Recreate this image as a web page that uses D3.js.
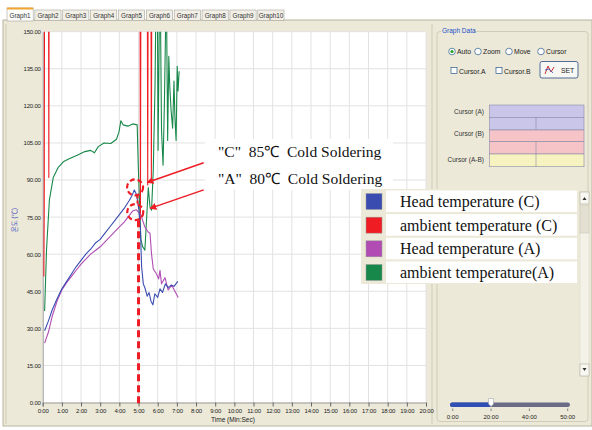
<!DOCTYPE html>
<html>
<head>
<meta charset="utf-8">
<script src="https://cdn.jsdelivr.net/npm/d3@7"></script>
<style>
  body { margin: 0; background: #fff; }
  svg { display: block; font-family: "Liberation Sans", Arial, sans-serif; }
</style>
</head>
<body>
<svg id="chart" width="592" height="430"></svg>
<script>
// ---- data (time in minutes, temperature in degC) ----
const tabNames = ['Graph1', 'Graph2', 'Graph3', 'Graph4', 'Graph5', 'Graph6', 'Graph7', 'Graph8', 'Graph9', 'Graph10'];
const xTickMinutes = d3.range(0, 21);
const yTicks = [0, 15, 30, 45, 60, 75, 90, 105, 120, 135, 150];

const headC = [[0.1, 29], [0.3, 33], [0.5, 37.5], [0.75, 42], [1.0, 46], [1.25, 49], [1.5, 52], [1.75, 55], [2.0, 57.5],
  [2.25, 60], [2.5, 62], [2.75, 64.5], [3.0, 66], [3.25, 68.5], [3.5, 71], [3.75, 73.5], [4.0, 76], [4.25, 78.5],
  [4.5, 81.5], [4.65, 83.5], [4.78, 86], [4.9, 84], [5.02, 78], [5.1, 70], [5.16, 55], [5.25, 48], [5.35, 46],
  [5.45, 43], [5.55, 44.5], [5.65, 41], [5.75, 39.5], [5.85, 44], [6.0, 42.5], [6.12, 46], [6.25, 44.5],
  [6.4, 48], [6.55, 46.5], [6.7, 47.5], [6.85, 47], [7.05, 49]];

const ambientC = [[0.06, 51], [0.08, 79], [0.1, 200], [0.3, 200], [0.32, 91], [0.34, 200], [5.07, 200], [5.1, 74],
  [5.13, 200], [5.45, 200], [5.48, 88], [5.51, 200], [5.64, 200], [5.67, 89], [5.7, 200], [7.1, 200]];

const headA = [[0.1, 24], [0.3, 28.5], [0.5, 35], [0.75, 41], [1.0, 45.5], [1.25, 48.5], [1.5, 51], [1.75, 53.5],
  [2.0, 56], [2.25, 58], [2.5, 60], [2.75, 61.5], [3.0, 63], [3.25, 65], [3.5, 67], [3.75, 69], [4.0, 71],
  [4.25, 73], [4.5, 75.5], [4.7, 77.5], [4.88, 78], [5.05, 76.5], [5.16, 75], [5.33, 71], [5.5, 69], [5.6, 68.5],
  [5.68, 60], [5.77, 54], [5.94, 52], [6.05, 50], [6.12, 53.5], [6.2, 48], [6.38, 50.5], [6.55, 45.5],
  [6.73, 47.5], [6.9, 45], [7.07, 42.5]];

const ambientA = [[0.1, 37], [0.2, 62], [0.35, 82], [0.55, 91], [0.8, 95], [1.1, 97.5], [1.35, 98.5], [1.5, 99],
  [1.8, 100], [2.2, 101.5], [2.5, 102], [2.7, 101], [2.9, 103.5], [3.2, 105], [3.55, 104.8], [3.85, 106.5],
  [3.98, 109.5], [4.08, 114], [4.2, 112.3], [4.45, 111.8], [4.7, 112.7], [4.93, 112.3], [4.99, 95], [5.05, 82],
  [5.12, 66], [5.22, 63], [5.33, 61.6], [5.42, 74], [5.51, 87], [5.6, 79], [5.68, 77.8], [5.77, 94], [5.86, 128],
  [5.92, 170], [5.98, 170], [6.02, 102], [6.08, 150], [6.13, 170], [6.2, 110], [6.28, 96], [6.35, 121],
  [6.45, 170], [6.52, 106], [6.58, 140], [6.63, 128], [6.7, 118], [6.78, 111], [6.85, 130], [6.9, 115],
  [6.96, 106], [7.02, 136], [7.06, 126], [7.12, 134]];

const seriesNames = ['Head temperature (C)', 'ambient temperature (C)', 'Head temperature (A)', 'ambient temperature(A)'];
const seriesColors = ['#3a4cb0', '#f01c24', '#b04cb4', '#17884a'];
const seriesData = [headC, ambientC, headA, ambientA];

const noteTexts = ['"C"  85\u2103  Cold Soldering', '"A"  80\u2103  Cold Soldering'];
const noteCircles = [[4.82, 87], [4.83, 77]];
const noteArrowFrom = [[8.4, 97], [8.4, 86]];
const noteArrowTo = [[5.45, 89], [5.6, 78.5]];
const markTime = 5.0;

const radioNames = ['Auto', 'Zoom', 'Move', 'Cursor'];
const checkNames = ['Cursor.A', 'Cursor.B'];
const cursorRows = ['Cursor (A)', 'Cursor (B)', 'Cursor (A-B)'];
const sliderLabels = ['0:00', '20:00', '40:00', '50:00'];

// ---- layout ----
const beige = '#ece9d8';
const plot = {left: 42.7, right: 426, top: 31.7, bottom: 402.5};

const svg = d3.select('#chart');

svg.append('rect').attr('width', 592).attr('height', 430).attr('fill', '#fff');
svg.append('rect').attr('x', 3).attr('y', 20).attr('width', 589).attr('height', 406)
  .attr('fill', beige).attr('stroke', '#b8b4a2');

// tabs
const tabX = d3.scaleBand().domain(tabNames).range([7, 284]).paddingInner(0.06);
const tabs = svg.append('g').selectAll('g').data(tabNames).enter().append('g');
tabs.append('rect')
  .attr('x', d => tabX(d)).attr('y', d => d === 'Graph1' ? 8 : 10)
  .attr('width', tabX.bandwidth()).attr('height', d => d === 'Graph1' ? 13 : 10.5)
  .attr('fill', d => d === 'Graph1' ? '#fcfcfb' : '#f1efe6').attr('stroke', '#a7a69a').attr('stroke-width', 0.6);
tabs.filter(d => d === 'Graph1').append('rect')
  .attr('x', d => tabX(d)).attr('y', 7.5).attr('width', tabX.bandwidth()).attr('height', 2).attr('fill', '#f3a533');
tabs.append('text')
  .attr('x', d => tabX(d) + tabX.bandwidth() / 2).attr('y', 18)
  .attr('text-anchor', 'middle').attr('font-size', 6.3).attr('fill', '#333').text(d => d);

// panel separators
svg.append('line').attr('x1', 432).attr('x2', 432).attr('y1', 24).attr('y2', 424).attr('stroke', '#cfcbb8');
svg.append('line').attr('x1', 6).attr('x2', 6).attr('y1', 24).attr('y2', 424).attr('stroke', '#cfcbb8');

// scales
const x = d3.scaleLinear().domain([0, 20]).range([plot.left, plot.right]);
const y = d3.scaleLinear().domain([0, 150]).range([plot.bottom, plot.top]);

svg.append('rect').attr('x', plot.left).attr('y', plot.top)
  .attr('width', plot.right - plot.left).attr('height', plot.bottom - plot.top).attr('fill', '#fff');

svg.append('clipPath').attr('id', 'plotClip').append('rect')
  .attr('x', plot.left).attr('y', plot.top)
  .attr('width', plot.right - plot.left).attr('height', plot.bottom - plot.top);

// grid
const grid = svg.append('g').attr('stroke', '#e2e2e2').attr('stroke-width', 1);
grid.selectAll('line.v').data(xTickMinutes.slice(1)).enter().append('line')
  .attr('x1', d => x(d)).attr('x2', d => x(d)).attr('y1', plot.top).attr('y2', plot.bottom);
grid.selectAll('line.h').data(yTicks.slice(1)).enter().append('line')
  .attr('x1', plot.left).attr('x2', plot.right).attr('y1', d => y(d)).attr('y2', d => y(d));

// axes
const fmtTime = m => m + ':00';
const xAxis = svg.append('g').attr('transform', `translate(0,${plot.bottom})`)
  .call(d3.axisBottom(x).tickValues(xTickMinutes).tickFormat(fmtTime).tickSize(4).tickPadding(2));
xAxis.select('.domain').attr('stroke', '#9a9a9a');
xAxis.selectAll('.tick line').attr('stroke', '#666');
xAxis.selectAll('text').attr('font-size', 6).attr('fill', '#222').attr('font-family', 'Liberation Sans').attr('letter-spacing', -0.2);

const yAxis = svg.append('g').attr('transform', `translate(${plot.left},0)`)
  .call(d3.axisLeft(y).tickValues(yTicks).tickFormat(d3.format('.2f')).tickSize(0).tickPadding(2));
yAxis.select('.domain').attr('stroke', '#9a9a9a');
yAxis.selectAll('text').attr('font-size', 6).attr('fill', '#222').attr('font-family', 'Liberation Sans').attr('letter-spacing', -0.2);

svg.append('text').attr('x', 233).attr('y', 421.5).attr('text-anchor', 'middle')
  .attr('font-size', 6.5).attr('fill', '#222').text('Time (Min:Sec)');
svg.append('text').attr('transform', 'translate(17,220) rotate(-90)').attr('text-anchor', 'middle')
  .attr('font-size', 6.5).attr('fill', '#3a4cc0').attr('font-family', '"Noto Sans CJK KR", sans-serif')
  .text('온도 (℃)');

// series lines
const line = d3.line().x(d => x(d[0])).y(d => y(d[1]));
const lines = svg.append('g').attr('clip-path', 'url(#plotClip)');
[3, 1, 2, 0].forEach(i => {
  lines.append('path').datum(seriesData[i])
    .attr('fill', 'none').attr('stroke', seriesColors[i]).attr('stroke-width', 1.1)
    .attr('stroke-linejoin', 'round').attr('d', line);
});

// annotations
const notes = svg.append('g');
notes.append('line')
  .attr('x1', x(markTime)).attr('x2', x(markTime)).attr('y1', y(noteCircles[1][1]) + 8).attr('y2', plot.bottom + 2)
  .attr('stroke', '#ee1c24').attr('stroke-width', 3).attr('stroke-dasharray', '7,4');
notes.append('line')
  .attr('x1', x(markTime) - 1).attr('x2', x(markTime) - 1).attr('y1', y(noteCircles[0][1]) + 8).attr('y2', y(noteCircles[1][1]) - 8)
  .attr('stroke', '#ee1c24').attr('stroke-width', 2).attr('stroke-dasharray', '3,2');
notes.selectAll('circle').data(noteCircles).enter().append('circle')
  .attr('cx', d => x(d[0])).attr('cy', d => y(d[1])).attr('r', 8)
  .attr('fill', 'none').attr('stroke', '#ee1c24').attr('stroke-width', 2.2).attr('stroke-dasharray', '5,3');

svg.append('defs').append('marker').attr('id', 'arrowHead')
  .attr('viewBox', '0 0 10 10').attr('refX', 9).attr('refY', 5)
  .attr('markerWidth', 7).attr('markerHeight', 7).attr('markerUnits', 'userSpaceOnUse').attr('orient', 'auto')
  .append('path').attr('d', 'M0,0 L10,5 L0,10 z').attr('fill', '#ee1c24');

notes.append('rect').attr('x', 205).attr('y', 139).attr('width', 188).attr('height', 51).attr('fill', '#fff');
noteTexts.forEach((t, i) => {
  notes.append('text')
    .attr('x', 218).attr('y', 157 + i * 27)
    .attr('font-family', '"Liberation Serif", "Times New Roman", serif').attr('font-size', 15.5)
    .attr('fill', '#111').style('white-space', 'pre').text(t);
  notes.append('line')
    .attr('x1', x(noteArrowFrom[i][0])).attr('y1', y(noteArrowFrom[i][1]))
    .attr('x2', x(noteArrowTo[i][0])).attr('y2', y(noteArrowTo[i][1]))
    .attr('stroke', '#ee1c24').attr('stroke-width', 1.4).attr('marker-end', 'url(#arrowHead)');
});

// right panel: Graph Data group box
const panel = svg.append('g');
panel.append('rect').attr('x', 437).attr('y', 31.5).attr('width', 151).attr('height', 390).attr('rx', 3)
  .attr('fill', 'none').attr('stroke', '#d0ccb8');
panel.append('rect').attr('x', 441).attr('y', 26).attr('width', 33).attr('height', 9).attr('fill', beige);
panel.append('text').attr('x', 442).attr('y', 33).attr('font-size', 6.5).attr('fill', '#1a4fc8').text('Graph Data');

const radioX = d3.scaleOrdinal().domain(radioNames).range([452, 478, 509, 541]);
const radios = panel.selectAll('g.radio').data(radioNames).enter().append('g');
radios.append('circle').attr('cx', d => radioX(d)).attr('cy', 51.5).attr('r', 3.3)
  .attr('fill', '#fff').attr('stroke', '#2a5a8a').attr('stroke-width', 0.7);
radios.filter(d => d === 'Auto').append('circle').attr('cx', d => radioX(d)).attr('cy', 51.5).attr('r', 1.6).attr('fill', '#21a121');
radios.append('text').attr('x', d => radioX(d) + 5).attr('y', 54).attr('font-size', 6.8).attr('fill', '#222').text(d => d);

const checkX = d3.scaleOrdinal().domain(checkNames).range([451, 496]);
const checks = panel.selectAll('g.check').data(checkNames).enter().append('g');
checks.append('rect').attr('x', d => checkX(d)).attr('y', 67.5).attr('width', 6).attr('height', 6)
  .attr('fill', '#fff').attr('stroke', '#2a5a8a').attr('stroke-width', 0.7);
checks.append('text').attr('x', d => checkX(d) + 8).attr('y', 73.5).attr('font-size', 6.8).attr('fill', '#222').text(d => d);

panel.append('rect').attr('x', 540).attr('y', 61.5).attr('width', 38).attr('height', 16.5).attr('rx', 2)
  .attr('fill', '#f7f7f3').attr('stroke', '#2a4a80').attr('stroke-width', 0.8);
panel.append('path').attr('d', 'M545,74 L548,66 L551,72 L554,67').attr('fill', 'none').attr('stroke', '#d03030').attr('stroke-width', 1);
panel.append('path').attr('d', 'M545,70 L549,69 L553,73').attr('fill', 'none').attr('stroke', '#3050c0').attr('stroke-width', 0.8);
panel.append('text').attr('x', 561).attr('y', 72.5).attr('font-size', 6.8).attr('fill', '#222').text('SET');

// cursor table
const rowY = [105, 117.3, 130, 141.7, 154, 166.7];
const rowFill = ['#c9c6ea', '#c9c6ea', '#f6c4c6', '#f6c4c6', '#f7f3c0'];
const tbl = panel.append('g');
rowFill.forEach((f, i) => {
  tbl.append('rect').attr('x', 489.5).attr('y', rowY[i]).attr('width', 94.5).attr('height', rowY[i + 1] - rowY[i])
    .attr('fill', f).attr('stroke', '#8a8aa8').attr('stroke-width', 0.6);
});
[1, 3, 4].forEach(i => {
  tbl.append('line').attr('x1', 536).attr('x2', 536).attr('y1', rowY[i]).attr('y2', rowY[i + 1])
    .attr('stroke', '#8a8aa8').attr('stroke-width', 0.6);
});
cursorRows.forEach((r, i) => {
  tbl.append('text').attr('x', 484).attr('y', [114, 136, 162][i]).attr('text-anchor', 'end')
    .attr('font-size', 6.5).attr('fill', '#333').text(r);
});

// scrollbar
const sb = panel.append('g');
sb.append('rect').attr('x', 580).attr('y', 192).attr('width', 9).attr('height', 184).attr('fill', '#f3f1e8').attr('stroke', '#dcd8c8').attr('stroke-width', 0.5);
sb.append('rect').attr('x', 580).attr('y', 205).attr('width', 9).attr('height', 28).attr('fill', '#e3e0d2').attr('stroke', '#c8c4b0').attr('stroke-width', 0.5);
[[192, 'M582.5,200 L584.5,197 L586.5,200 z'], [364, 'M582.5,368 L584.5,371 L586.5,368 z']].forEach(b => {
  sb.append('rect').attr('x', 580).attr('y', b[0]).attr('width', 9).attr('height', 12).attr('fill', '#f8f7f2').attr('stroke', '#b0ad9c').attr('stroke-width', 0.6);
  sb.append('path').attr('d', b[1]).attr('fill', '#333');
});

// legend
const leg = svg.append('g');
leg.append('rect').attr('x', 361).attr('y', 189).attr('width', 218).attr('height', 95).attr('fill', beige);
const legY = d3.scaleBand().domain(seriesNames).range([190.5, 283]).paddingInner(0.09);
const legRows = leg.selectAll('g').data(seriesNames).enter().append('g');
legRows.append('rect').attr('x', 386).attr('y', d => legY(d)).attr('width', 191).attr('height', legY.bandwidth()).attr('fill', '#fff');
legRows.append('rect').attr('x', 366).attr('y', d => legY(d) + 3).attr('width', 16).attr('height', 16)
  .attr('fill', (d, i) => seriesColors[i]).attr('stroke', '#999').attr('stroke-width', 0.5);
legRows.append('text').attr('x', 400).attr('y', d => legY(d) + 16.5)
  .attr('font-family', '"Liberation Serif", "Times New Roman", serif').attr('font-size', 16).attr('fill', '#111')
  .text(d => d);

// time slider
const sx = d3.scalePoint().domain(sliderLabels).range([452.7, 567.7]);
const slider = panel.append('g');
slider.append('rect').attr('x', 450).attr('y', 402.5).attr('width', 120).attr('height', 4.5).attr('rx', 2.2).attr('fill', '#6b6b88');
slider.append('rect').attr('x', 450).attr('y', 402.5).attr('width', sx('20:00') - 450).attr('height', 4.5).attr('rx', 2.2).attr('fill', '#2f4fb5');
slider.selectAll('line').data(sliderLabels).enter().append('line')
  .attr('x1', d => sx(d)).attr('x2', d => sx(d)).attr('y1', 408.5).attr('y2', 411).attr('stroke', '#444').attr('stroke-width', 0.6);
slider.selectAll('text').data(sliderLabels).enter().append('text')
  .attr('x', d => sx(d)).attr('y', 418.5).attr('text-anchor', 'middle').attr('font-size', 6).attr('fill', '#222').text(d => d);
const tx = sx('20:00');
slider.append('path').attr('d', `M${tx - 2.5},398.5 h5 v5.5 l-2.5,2.5 l-2.5,-2.5 z`)
  .attr('fill', '#fff').attr('stroke', '#9a9a9a').attr('stroke-width', 0.5);
</script>
</body>
</html>
